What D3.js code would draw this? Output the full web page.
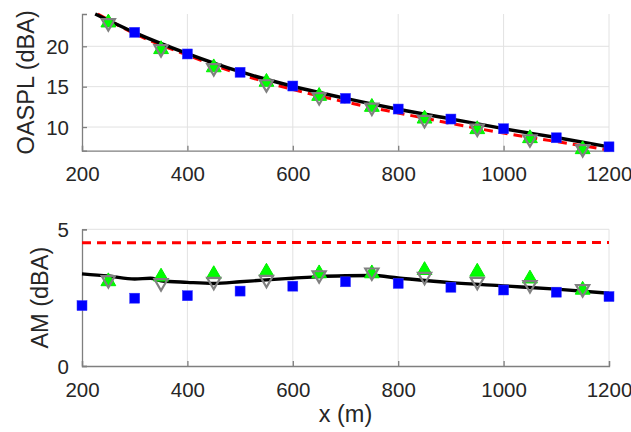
<!DOCTYPE html>
<html><head><meta charset="utf-8">
<script src="https://cdn.jsdelivr.net/npm/d3@7"></script>
<style>body{margin:0;background:#fff}svg{display:block;font-family:"Liberation Sans",Arial,sans-serif}</style>
</head><body><svg id="c" width="631" height="432"></svg>
<script>
// ---- data ----
const xTicks = [200,400,600,800,1000,1200];
const topYTicks = [10,15,20];
const botYTicks = [0,5];

const oasplBlackX = [225,300,400,500,600,700,800,900,1000,1100,1200];
const oasplBlackY = [24.0,21.7,19.1,16.85,15.05,13.55,12.2,11.0,9.8,8.7,7.55];
const oasplRedX = [230,300,400,500,600,700,800,900,1000,1100,1200];
const oasplRedY = [24.0,21.55,18.9,16.55,14.65,13.1,11.75,10.45,9.25,8.2,7.15];
const oasplBlueX = [300,400,500,600,700,800,900,1000,1100,1200];
const oasplBlueY = [21.73,19.05,16.78,15.08,13.55,12.23,10.99,9.79,8.67,7.55];
const triX = [250,350,450,550,650,750,850,950,1050,1150];
const oasplGreenY = [23.05,19.75,17.5,15.7,13.96,12.6,11.15,9.84,8.72,7.36];
const oasplGrayY = [22.76,19.54,17.2,15.2,13.6,12.3,10.78,9.71,8.39,7.16];

const amBlackX = [200,250,300,330,350,400,450,500,550,600,650,700,750,800,900,1000,1100,1200];
const amBlackY = [3.37,3.29,3.18,3.21,3.12,3.06,3.02,3.08,3.15,3.21,3.27,3.30,3.31,3.22,3.05,2.93,2.81,2.66];
const amRedX = [200,1200];
const amRedY = [4.51,4.52];
const amBlueX = [200,300,400,500,600,700,800,900,1000,1100,1200];
const amBlueY = [2.21,2.48,2.57,2.74,2.92,3.08,3.02,2.88,2.78,2.70,2.54];
const amGreenY = [3.13,3.30,3.39,3.48,3.42,3.42,3.54,3.48,3.23,2.82];
const amGrayY = [3.11,3.0,3.05,3.12,3.29,3.39,3.23,3.05,2.93,2.78];

// ---- drawing ----
const svg = d3.select('#c');
const X0 = 82, X1 = 609;
const x = d3.scaleLinear().domain([200,1200]).range([X0,X1]);
const textCol = '#262626', axisCol = '#7f7f7f', gridCol = '#e2e2e2';
const tickFont = 20.5, labelFont = 23.5;

function panel(yDomain, yTop, yBot, yTicks, ylabel, ylabX, series) {
  const y = d3.scaleLinear().domain(yDomain).range([yBot, yTop]);
  const g = svg.append('g');
  // grid
  g.selectAll('.gx').data(xTicks.filter(t=>t>200)).join('line')
    .attr('x1',d=>x(d)).attr('x2',d=>x(d)).attr('y1',yTop).attr('y2',yBot)
    .attr('stroke',gridCol).attr('stroke-width',1);
  g.selectAll('.gy').data(yTicks.filter(t=>y(t)<yBot-1)).join('line')
    .attr('x1',X0).attr('x2',X1).attr('y1',d=>y(d)).attr('y2',d=>y(d))
    .attr('stroke',gridCol).attr('stroke-width',1);
  // axes
  const ax = g.append('g').attr('transform',`translate(0,${yBot})`)
    .call(d3.axisBottom(x).tickValues(xTicks).tickSize(-5).tickPadding(16).tickFormat(d3.format('d')));
  const ay = g.append('g').attr('transform',`translate(${X0},0)`)
    .call(d3.axisLeft(y).tickValues(yTicks).tickSize(-5).tickPadding(13).tickFormat(d3.format('d')));
  [ax,ay].forEach(a=>{
    a.select('.domain').attr('stroke',axisCol).attr('stroke-width',1.3);
    a.selectAll('.tick line').attr('stroke',axisCol).attr('stroke-width',1.3);
    a.selectAll('.tick text').attr('fill',textCol).attr('font-size',tickFont)
      .attr('font-family','"Liberation Sans",Arial,sans-serif');
  });
  ax.selectAll('.tick text').attr('dy','0.71em');
  ay.selectAll('.tick text').attr('dy','0.35em');
  // y label
  g.append('text').attr('transform',`translate(${ylabX},${(yTop+yBot)/2}) rotate(-90)`)
    .attr('text-anchor','middle').attr('dy','0.35em').attr('fill',textCol).attr('font-size',labelFont)
    .text(ylabel);
  const line = d3.line().x(d=>x(d[0])).y(d=>y(d[1])).curve(d3.curveMonotoneX);
  series.red && g.append('path').datum(d3.zip(series.red[0],series.red[1]))
    .attr('d',line).attr('fill','none').attr('stroke','#ff0000').attr('stroke-width',3)
    .attr('stroke-dasharray','9,6');
  g.append('path').datum(d3.zip(series.black[0],series.black[1]))
    .attr('d',line).attr('fill','none').attr('stroke','#000').attr('stroke-width',3.4);
  // blue squares
  g.selectAll('.bs').data(d3.zip(series.blue[0],series.blue[1])).join('rect')
    .attr('x',d=>x(d[0])-5).attr('y',d=>y(d[1])-5).attr('width',10).attr('height',10)
    .attr('fill','#0000ff').attr('stroke','#3333ff').attr('stroke-width',0.5);
  // green up triangles
  g.selectAll('.gt').data(d3.zip(triX,series.green)).join('path')
    .attr('d',d3.symbol().type(d3.symbolTriangle).size(95))
    .attr('transform',d=>`translate(${x(d[0])},${y(d[1])+1})`)
    .attr('fill','#00ff00').attr('stroke','#00ee00').attr('stroke-width',1);
  // gray down triangles (hollow)
  g.selectAll('.dt').data(d3.zip(triX,series.gray)).join('path')
    .attr('d',d3.symbol().type(d3.symbolTriangle).size(75))
    .attr('transform',d=>`translate(${x(d[0])},${y(d[1])-1}) rotate(180)`)
    .attr('fill','none').attr('stroke','#808080').attr('stroke-width',2.2);
  return y;
}

panel([7.07,24], 14, 150.7, topYTicks, 'OASPL (dBA)', 26,
  {black:[oasplBlackX,oasplBlackY], red:[oasplRedX,oasplRedY], blue:[oasplBlueX,oasplBlueY],
   green:oasplGreenY, gray:oasplGrayY});
panel([0,5], 229.3, 366, botYTicks, 'AM (dBA)', 40,
  {black:[amBlackX,amBlackY], red:[amRedX,amRedY], blue:[amBlueX,amBlueY],
   green:amGreenY, gray:amGrayY});

svg.append('text').attr('x',(X0+X1)/2).attr('y',414).attr('text-anchor','middle')
  .attr('dy','0.35em').attr('fill',textCol).attr('font-size',labelFont).text('x (m)');
</script></body></html>
